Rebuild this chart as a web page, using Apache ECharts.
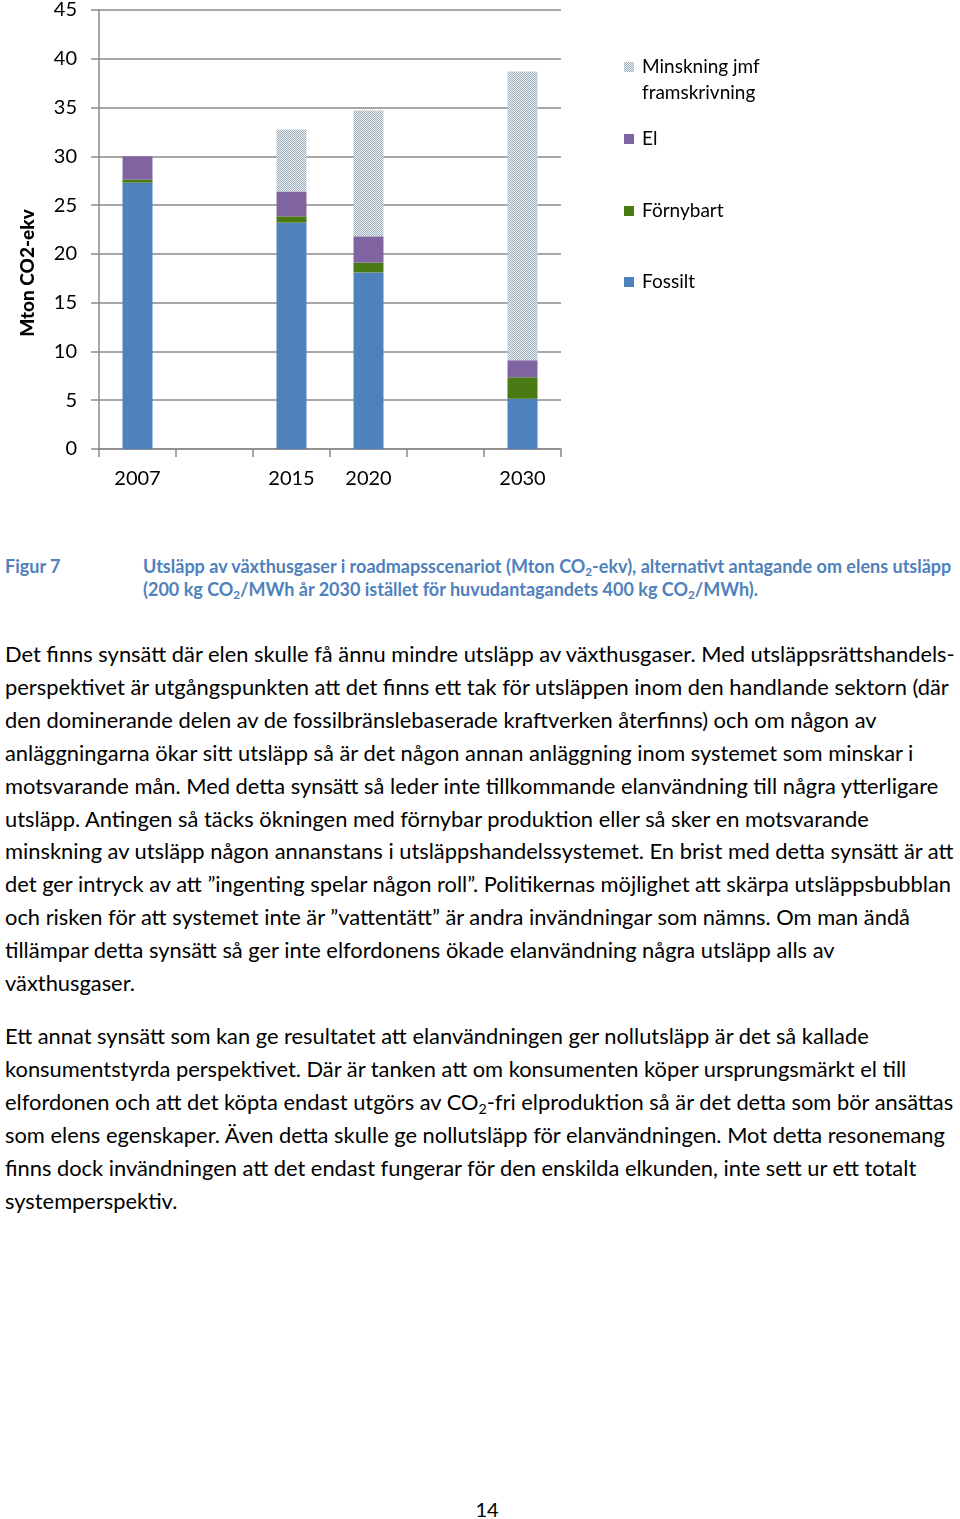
<!DOCTYPE html>
<html>
<head>
<meta charset="utf-8">
<script src="https://cdn.jsdelivr.net/npm/echarts@6/dist/echarts.min.js"></script>
<style>
  html, body { margin: 0; padding: 0; background: #fff; }
  body { width: 960px; height: 1519px; position: relative; overflow: hidden; font-family: Lato, "Open Sans", sans-serif; color: #000; }
  #chart { position: absolute; left: 0; top: 0; width: 960px; height: 520px; }
  .cap { position: absolute; color: #4f81bd; font-weight: bold; font-size: 16px; line-height: 23px; white-space: nowrap; }
  .body { position: absolute; left: 5px; font-size: 20px; line-height: 32.9px; white-space: nowrap; }
  .sub { font-size: 0.65em; vertical-align: -0.25em; line-height: 0; }
  #pagenum { position: absolute; left: 0; width: 974px; text-align: center; top: 1497px; font-size: 20px; line-height: 24px; }
</style>
</head>
<body>
<div id="chart"></div>

<div class="cap" style="left:5px; top:555px;">Figur 7</div>
<div class="cap" id="capText" style="left:143px; top:555px;"><span id="capLine1">Utsläpp av växthusgaser i roadmapsscenariot (Mton CO<span class="sub">2</span>-ekv), alternativt antagande om elens utsläpp</span><br>(200 kg CO<span class="sub">2</span>/MWh år 2030 istället för huvudantagandets 400 kg CO<span class="sub">2</span>/MWh).</div>

<div class="body" id="p1" style="top:638px;"><span id="bodyLine1">Det finns synsätt där elen skulle få ännu mindre utsläpp av växthusgaser. Med utsläppsrättshandels-</span><br>perspektivet är utgångspunkten att det finns ett tak för utsläppen inom den handlande sektorn (där<br>den dominerande delen av de fossilbränslebaserade kraftverken återfinns) och om någon av<br>anläggningarna ökar sitt utsläpp så är det någon annan anläggning inom systemet som minskar i<br>motsvarande mån. Med detta synsätt så leder inte tillkommande elanvändning till några ytterligare<br>utsläpp. Antingen så täcks ökningen med förnybar produktion eller så sker en motsvarande<br>minskning av utsläpp någon annanstans i utsläppshandelssystemet. En brist med detta synsätt är att<br>det ger intryck av att ”ingenting spelar någon roll”. Politikernas möjlighet att skärpa utsläppsbubblan<br>och risken för att systemet inte är ”vattentätt” är andra invändningar som nämns. Om man ändå<br>tillämpar detta synsätt så ger inte elfordonens ökade elanvändning några utsläpp alls av<br>växthusgaser.</div>

<div class="body" id="p2" style="top:1020px;">Ett annat synsätt som kan ge resultatet att elanvändningen ger nollutsläpp är det så kallade<br>konsumentstyrda perspektivet. Där är tanken att om konsumenten köper ursprungsmärkt el till<br>elfordonen och att det köpta endast utgörs av CO<span class="sub">2</span>-fri elproduktion så är det detta som bör ansättas<br>som elens egenskaper. Även detta skulle ge nollutsläpp för elanvändningen. Mot detta resonemang<br>finns dock invändningen att det endast fungerar för den enskilda elkunden, inte sett ur ett totalt<br>systemperspektiv.</div>

<div id="pagenum">14</div>

<script>
// ---- data ----
const categories = ['2007', '', '2015', '2020', '', '2030'];
const fossilt    = [27.3, null, 23.2, 18.1, null, 5.15];
const fornybart  = [0.3,  null, 0.65, 1.0,  null, 2.2];
const el         = [2.4,  null, 2.55, 2.7,  null, 1.75];
const minskning  = [null, null, 6.35, 12.9, null, 29.6];
const yTicks = { min: 0, max: 45, interval: 5 };
const seriesNames = ['Fossilt', 'Förnybart', 'El', 'Minskning jmf\nframskrivning'];

// ---- fit text widths ----
function fit(spanId, containerId, targetWidth) {
  const span = document.getElementById(spanId);
  const cont = document.getElementById(containerId);
  const fs = parseFloat(getComputedStyle(cont).fontSize);
  const w = span.getBoundingClientRect().width;
  if (w > 0) cont.style.fontSize = (fs * targetWidth / w) + 'px';
  return fs * targetWidth / w;
}
const bodySize = fit('bodyLine1', 'p1', 950);
document.getElementById('p2').style.fontSize = bodySize + 'px';
fit('capLine1', 'capText', 809);
document.querySelectorAll('.cap')[0].style.fontSize = document.getElementById('capText').style.fontSize;

// ---- pattern for "Minskning" ----
const pc = document.createElement('canvas');
pc.width = 2; pc.height = 2;
const g = pc.getContext('2d');
g.fillStyle = '#ebeff2'; g.fillRect(0, 0, 2, 2);
g.fillStyle = '#9eb0be'; g.fillRect(0, 0, 1, 1); g.fillRect(1, 1, 1, 1);
const patternColor = { image: pc, repeat: 'repeat' };

const colors = ['#4f81bd', '#4a7a14', '#8064a2', patternColor];
const dataArrays = [fossilt, fornybart, el, minskning];

const chart = echarts.init(document.getElementById('chart'), null, { renderer: 'canvas' });
const font = 'Lato, "Open Sans", sans-serif';
const gridColor = '#8a8a8a';

function legendFor(name, top, extra) {
  return Object.assign({
    data: [name], left: 624, top: top, orient: 'vertical', padding: 0,
    itemWidth: 10, itemHeight: 10, icon: 'rect', selectedMode: false,
    textStyle: { fontFamily: font, fontSize: 19, color: '#000', lineHeight: 24, padding: [0, 0, 0, 3] }
  }, extra || {});
}

chart.setOption({
  animation: false,
  textStyle: { fontFamily: font },
  grid: { left: 99, top: 9.7, width: 462, height: 439.3, containLabel: false },
  legend: [
    legendFor(seriesNames[3], 28, {
      formatter: n => '\n' + n,
      textStyle: { fontFamily: font, fontSize: 19, color: '#000', lineHeight: 26, padding: [0, 0, 0, 3] }
    }),
    legendFor(seriesNames[2], 127),
    legendFor(seriesNames[1], 199),
    legendFor(seriesNames[0], 270)
  ],
  xAxis: {
    type: 'category', data: categories, boundaryGap: true,
    axisLine: { lineStyle: { color: gridColor, width: 1.5 } },
    axisTick: { show: true, interval: 0, length: 8, lineStyle: { color: gridColor, width: 1.5 } },
    axisLabel: { interval: 0, fontSize: 20, color: '#000', margin: 20, fontFamily: font }
  },
  yAxis: {
    type: 'value', min: yTicks.min, max: yTicks.max, interval: yTicks.interval,
    name: 'Mton CO2-ekv', nameLocation: 'middle', nameRotate: 90, nameGap: 62,
    nameTextStyle: { fontFamily: font, fontSize: 19, fontWeight: 900, color: '#000', padding: [0, 87, 0, 0] },
    axisLine: { show: true, lineStyle: { color: gridColor, width: 1.5 } },
    axisTick: { show: true, length: 8, lineStyle: { color: gridColor, width: 1.5 } },
    splitLine: { show: true, lineStyle: { color: gridColor, width: 1.5 } },
    axisLabel: { fontSize: 20, color: '#000', margin: 22, fontFamily: font }
  },
  series: seriesNames.map((n, i) => ({
    name: n, type: 'bar', stack: 'total', barWidth: 30,
    data: dataArrays[i],
    itemStyle: { color: colors[i] },
    emphasis: { disabled: true }
  }))
});
</script>
</body>
</html>
